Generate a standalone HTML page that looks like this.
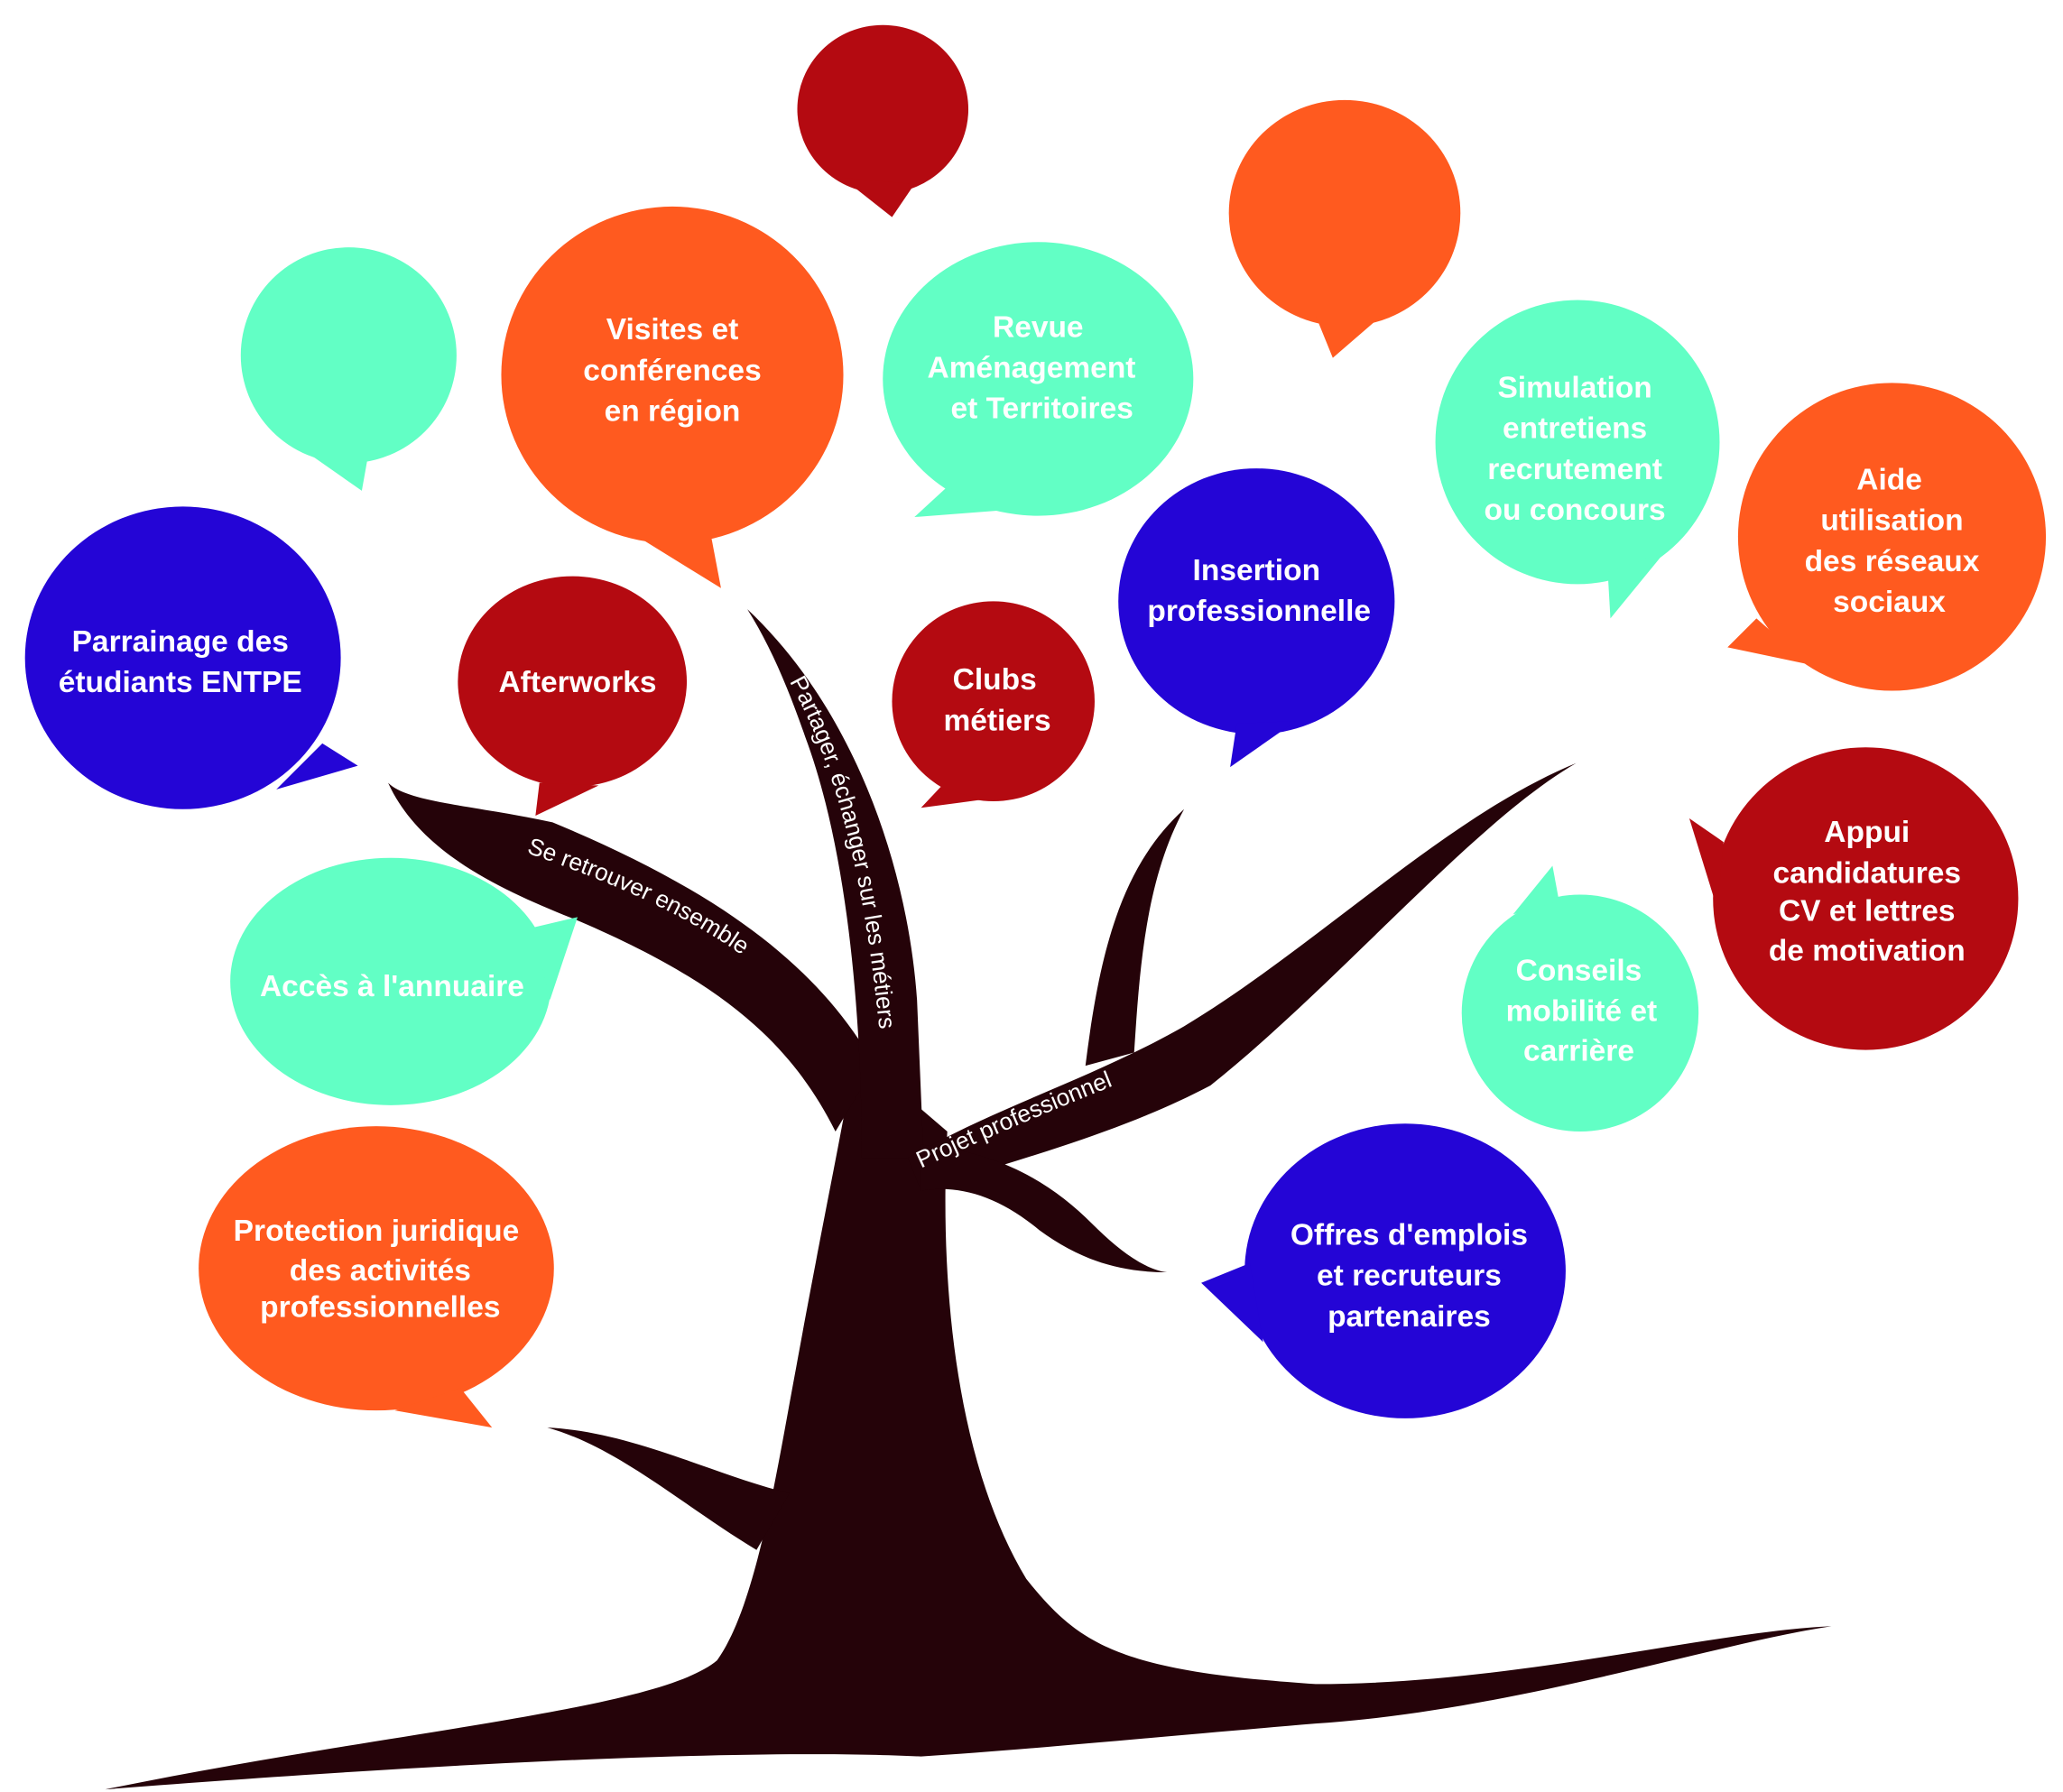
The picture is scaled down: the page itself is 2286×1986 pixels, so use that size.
<!DOCTYPE html>
<html><head><meta charset="utf-8"><style>
html,body{margin:0;padding:0;background:#fff;}
svg{display:block;}
.t{font-family:"Liberation Sans",sans-serif;font-weight:bold;fill:#fff;font-size:23px;text-anchor:middle;}
.b{font-family:"Liberation Sans",sans-serif;fill:#fff;font-size:18px;}
</style></head><body>
<svg width="2286" height="1986" viewBox="0 0 1568 1362" preserveAspectRatio="none" xmlns="http://www.w3.org/2000/svg">
<g fill="#250309">
<path d="M80,1360 C300,1315 500,1300 545,1262 C575,1220 590,1120 605,1040 C625,930 640,860 650,800 L720,860 C715,950 720,1100 780,1200 C820,1250 850,1270 1000,1280 C1150,1280 1300,1240 1392,1236 C1300,1250 1150,1300 1000,1310 C880,1320 780,1330 700,1335 C600,1330 400,1335 80,1360 Z"/>
<path d="M665,810 C620,730 540,675 420,625 C360,612 310,610 295,595 C320,650 385,678 440,700 C545,745 600,790 635,860 Z"/>
<path d="M568,463 C650,540 690,660 697,760 L702,880 L655,880 C655,760 642,640 612,560 C598,520 585,490 568,463 Z"/>
<path d="M690,880 C760,840 830,820 900,780 C1000,720 1100,620 1198,580 C1120,625 1020,745 920,825 C850,862 770,882 700,905 Z"/>
<path d="M825,810 C835,730 850,660 900,615 C870,670 866,740 862,800 Z"/>
<path d="M700,870 C760,875 800,900 830,930 C850,950 870,965 887,967 C850,967 820,957 790,935 C760,910 730,900 700,905 Z"/>
<path d="M600,1135 C540,1120 480,1088 416,1085 C470,1100 520,1145 575,1178 Z"/>
</g>
<defs>
<path id="p1" d="M400,648 C480,676 565,712 614,772"/>
<path id="p2" d="M600,518 C640,590 668,700 675,885"/>
<path id="p3" d="M700,888 C760,860 820,835 885,810"/>
</defs>
<text class="b"><textPath href="#p1">Se retrouver ensemble</textPath></text>
<text class="b"><textPath href="#p2">Partager, échanger sur les métiers</textPath></text>
<text class="b"><textPath href="#p3">Projet professionnel</textPath></text>

<g fill="#b40a11">
<ellipse cx="671" cy="83" rx="65" ry="64"/><polygon points="640,135 678,165 695,140"/>
<ellipse cx="435" cy="518" rx="87" ry="80"/><polygon points="410,595 407,620 455,597"/>
<ellipse cx="755" cy="533" rx="77" ry="76"/><polygon points="715,598 700,614 745,608"/>
<ellipse cx="1418" cy="683" rx="116" ry="115"/><polygon points="1310,640 1284,622 1305,690"/>
</g>
<g fill="#ff5a1f">
<ellipse cx="1022" cy="162" rx="88" ry="86"/><polygon points="1000,240 1013,272 1050,240"/>
<ellipse cx="511" cy="285" rx="130" ry="128"/><polygon points="480,405 548,447 540,405"/>
<ellipse cx="1438" cy="408" rx="117" ry="117"/><polygon points="1335,470 1313,492 1375,505"/>
<ellipse cx="286" cy="964" rx="135" ry="108"/><polygon points="300,1072 374,1085 350,1055"/>
</g>
<g fill="#62ffc5">
<ellipse cx="265" cy="270" rx="82" ry="82"/><polygon points="235,345 275,373 280,345"/>
<ellipse cx="789" cy="288" rx="118" ry="104"/><polygon points="720,370 695,393 760,388"/>
<ellipse cx="1199" cy="336" rx="108" ry="108"/><polygon points="1222,435 1224,470 1265,420"/>
<ellipse cx="297" cy="746" rx="122" ry="94"/><polygon points="405,705 439,697 418,760"/>
<ellipse cx="1201" cy="770" rx="90" ry="90"/><polygon points="1150,695 1180,658 1185,685"/>
</g>
<g fill="#2405d6">
<ellipse cx="139" cy="500" rx="120" ry="115"/><polygon points="245,565 272,582 210,600"/>
<ellipse cx="955" cy="457" rx="105" ry="101"/><polygon points="940,550 935,583 985,548"/>
<ellipse cx="1068" cy="966" rx="122" ry="112"/><polygon points="960,1020 913,975 950,960"/>
</g>

<text class="t" x="511" y="258">Visites et</text>
<text class="t" x="511" y="289">conférences</text>
<text class="t" x="511" y="320">en région</text>
<text class="t" x="789" y="256">Revue</text>
<text class="t" x="784" y="287">Aménagement</text>
<text class="t" x="792" y="318">et Territoires</text>
<text class="t" x="1197" y="302">Simulation</text>
<text class="t" x="1197" y="333">entretiens</text>
<text class="t" x="1197" y="364">recrutement</text>
<text class="t" x="1197" y="395">ou concours</text>
<text class="t" x="1436" y="372">Aide</text>
<text class="t" x="1438" y="403">utilisation</text>
<text class="t" x="1438" y="434">des réseaux</text>
<text class="t" x="1436" y="465">sociaux</text>
<text class="t" x="137" y="495">Parrainage des</text>
<text class="t" x="137" y="526">étudiants ENTPE</text>
<text class="t" x="439" y="526">Afterworks</text>
<text class="t" x="756" y="524">Clubs</text>
<text class="t" x="758" y="555">métiers</text>
<text class="t" x="955" y="441">Insertion</text>
<text class="t" x="957" y="472">professionnelle</text>
<text class="t" x="1419" y="640">Appui</text>
<text class="t" x="1419" y="671">candidatures</text>
<text class="t" x="1419" y="700">CV et lettres</text>
<text class="t" x="1419" y="730">de motivation</text>
<text class="t" x="298" y="757">Accès à l'annuaire</text>
<text class="t" x="1200" y="745">Conseils</text>
<text class="t" x="1202" y="776">mobilité et</text>
<text class="t" x="1200" y="806">carrière</text>
<text class="t" x="286" y="943">Protection juridique</text>
<text class="t" x="289" y="973">des activités</text>
<text class="t" x="289" y="1001">professionnelles</text>
<text class="t" x="1071" y="946">Offres d'emplois</text>
<text class="t" x="1071" y="977">et recruteurs</text>
<text class="t" x="1071" y="1008">partenaires</text>
</svg>
</body></html>
